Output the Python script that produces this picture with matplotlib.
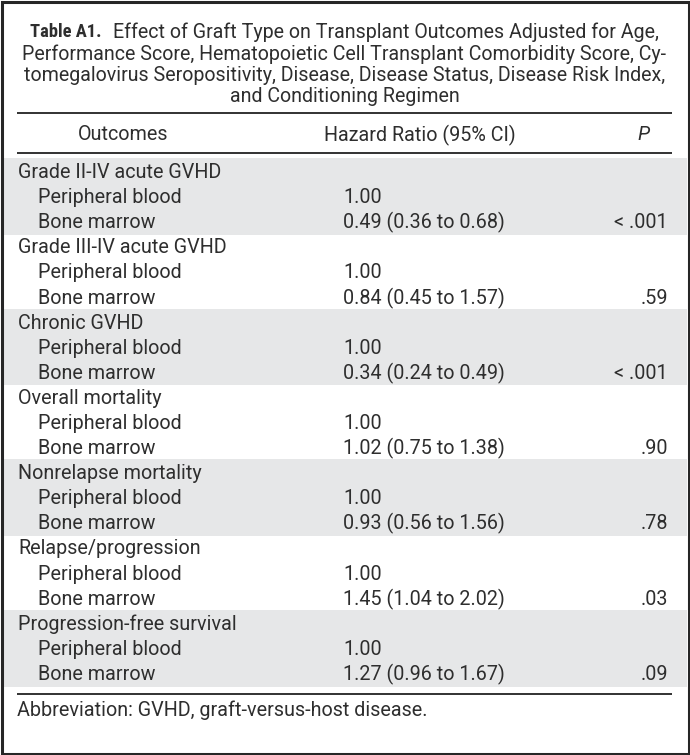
import matplotlib
matplotlib.use("Agg")
import matplotlib.pyplot as plt
from matplotlib.patches import Rectangle

title_bold = "Table A1."
title_lines = [
    "Effect of Graft Type on Transplant Outcomes Adjusted for Age,",
    "Performance Score, Hematopoietic Cell Transplant Comorbidity Score, Cy-",
    "tomegalovirus Seropositivity, Disease, Disease Status, Disease Risk Index,",
    "and Conditioning Regimen",
]
headers = ["Outcomes", "Hazard Ratio (95% CI)", "P"]
outcomes = ["Grade II-IV acute GVHD", "Grade III-IV acute GVHD", "Chronic GVHD",
            "Overall mortality", "Nonrelapse mortality", "Relapse/progression",
            "Progression-free survival"]
graft_types = ["Peripheral blood", "Bone marrow"]
reference_hr = "1.00"
bm_hr = ["0.49 (0.36 to 0.68)", "0.84 (0.45 to 1.57)", "0.34 (0.24 to 0.49)",
         "1.02 (0.75 to 1.38)", "0.93 (0.56 to 1.56)", "1.45 (1.04 to 2.02)",
         "1.27 (0.96 to 1.67)"]
p_values = ["< .001", ".59", "< .001", ".90", ".78", ".03", ".09"]
footnote = "Abbreviation: GVHD, graft-versus-host disease."

W, H = 690, 755
fig = plt.figure(figsize=(W / 100, H / 100), dpi=100)
ax = fig.add_axes([0, 0, 1, 1])
ax.set_xlim(0, W)
ax.set_ylim(H, 0)
ax.axis("off")
renderer = fig.canvas.get_renderer()

FONT = ["Roboto", "DejaVu Sans"]
BOLDFONT = ["Roboto Condensed", "Archivo Narrow", "Roboto", "DejaVu Sans"]
TC = "#2e2e2e"
WEIGHT = "normal"


def fit_size(s, target, family, weight="normal", style="normal"):
    t = ax.text(0, 0, s, fontsize=10, family=family, fontweight=weight, fontstyle=style)
    w = t.get_window_extent(renderer=renderer).width
    t.remove()
    return 10 * target / w


FS = fit_size(outcomes[0], 203, FONT, WEIGHT)
TFS = fit_size(title_lines[2], 641, FONT, WEIGHT)
BFS = min(fit_size(title_bold, 72, BOLDFONT, "bold"), TFS * 1.3)


def txt(x, y, s, ha="left", size=None, **kw):
    ax.text(x, y, s, ha=ha, va="center", fontsize=size or FS, color=TC,
            family=kw.pop("family", FONT), fontweight=kw.pop("weight", WEIGHT), **kw)


# border
ax.add_patch(Rectangle((1.5, 1.5), W - 3, H - 3, fill=False, ec="#262626", lw=2.2))

# title
ty = [32, 54, 75.5, 97]
txt(30, ty[0], title_bold, size=BFS, family=BOLDFONT, weight="bold")
txt(113, ty[0], title_lines[0], size=TFS)
for y, line in zip(ty[1:], title_lines[1:]):
    txt(344.5, y, line, ha="center", size=TFS)

# rules
for yr in (112.5, 153, 694):
    ax.plot([17, 672], [yr, yr], color="#222222", lw=1.3, solid_capstyle="butt")

# header
txt(123, 135, headers[0], ha="center")
txt(420, 135, headers[1], ha="center")
txt(643, 135, headers[2], ha="center", style="italic")

# body
y0 = 172.5
dy = 25.1
for g, name in enumerate(outcomes):
    ya = y0 + 3 * g * dy
    if g % 2 == 0:
        ax.add_patch(Rectangle((3, ya - 14.5), W - 6, 3 * dy + 1.5, color="#e6e7e8",
                               lw=0, zorder=0))
    txt(18, ya, name)
    txt(38, ya + dy, graft_types[0])
    txt(343, ya + dy, reference_hr)
    txt(38, ya + 2 * dy, graft_types[1])
    txt(343, ya + 2 * dy, bm_hr[g])
    txt(668, ya + 2 * dy, p_values[g], ha="right")

txt(17, 710, footnote)

fig.savefig("out.png", dpi=100)
